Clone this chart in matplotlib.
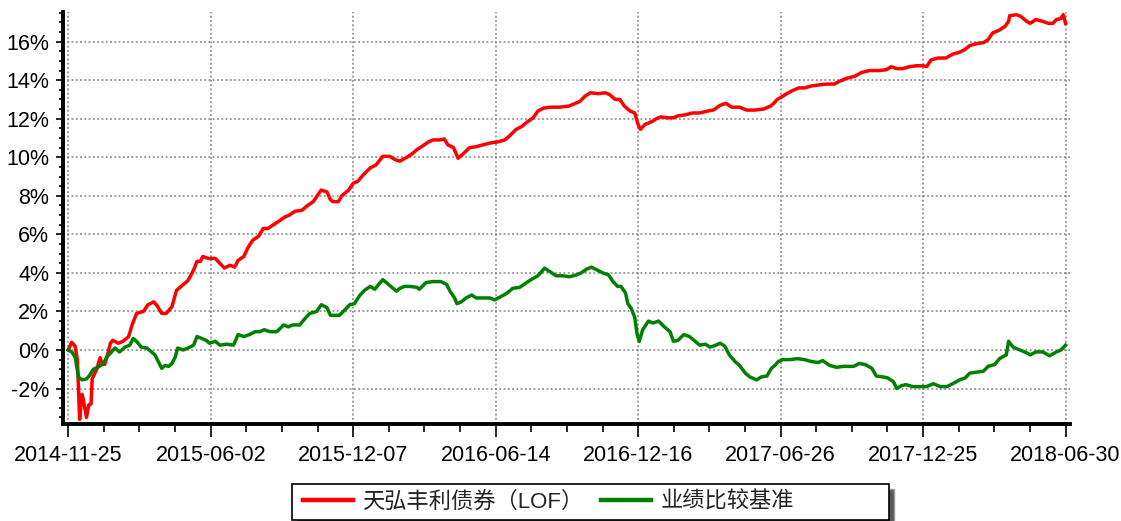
import numpy as np
import matplotlib
matplotlib.use("Agg")
import matplotlib.pyplot as plt
from matplotlib.ticker import MultipleLocator, FuncFormatter
from matplotlib.patches import Rectangle

# x axis in trading-day index, labels every 125 days
date_labels = ["2014-11-25", "2015-06-02", "2015-12-07", "2016-06-14",
               "2016-12-16", "2017-06-26", "2017-12-25", "2018-06-30"]
label_step = 125

fund_name = "天弘丰利债券（LOF）"
bench_name = "业绩比较基准"

fund_day = [0, 3, 6, 8, 10, 12, 13, 16, 18, 20, 21, 25, 28, 29, 32, 34, 37, 39, 44, 48,
            53, 56, 60, 66, 70, 75, 78, 82, 86, 91, 95, 101, 105, 110, 113, 116, 118, 123, 129, 133,
            137, 142, 146, 149, 154, 158, 162, 167, 171, 175, 180, 184, 190, 194, 199, 205, 209, 215, 219, 222,
            227, 230, 232, 237, 240, 246, 250, 254, 259, 265, 270, 276, 282, 287, 291, 297, 301, 306, 310, 316,
            320, 326, 330, 333, 338, 342, 346, 352, 358, 364, 371, 377, 383, 387, 393, 398, 403, 408, 412, 417,
            423, 431, 439, 443, 449, 453, 458, 465, 471, 475, 480, 484, 488, 493, 497, 500, 502, 506, 512, 516,
            520, 525, 531, 535, 541, 548, 554, 561, 566, 572, 577, 582, 589, 595, 602, 610, 616, 619, 622, 625,
            629, 635, 641, 646, 652, 658, 665, 672, 677, 683, 690, 696, 703, 712, 718, 722, 727, 732, 738, 744,
            750, 753, 757, 763, 770, 776, 782, 787, 791, 797, 803, 807, 811, 817, 822, 825, 826, 832, 836, 841,
            844, 849, 855, 860, 864, 867, 871, 873, 875]
fund_pct = [0.0, 0.4, 0.2, -0.5, -3.6, -2.3, -2.5, -3.5, -2.85, -2.8, -1.5, -1.0, -0.4, -0.6, -0.75, -0.35, 0.35, 0.5, 0.35, 0.45,
            0.7, 1.3, 1.9, 2.0, 2.35, 2.5, 2.3, 1.9, 1.9, 2.25, 3.1, 3.4, 3.6, 4.15, 4.6, 4.6, 4.85, 4.75, 4.75, 4.5,
            4.25, 4.4, 4.3, 4.65, 4.85, 5.35, 5.7, 5.9, 6.3, 6.3, 6.5, 6.65, 6.9, 7.0, 7.2, 7.25, 7.45, 7.7, 8.05, 8.3,
            8.2, 7.8, 7.7, 7.7, 8.0, 8.3, 8.65, 8.75, 9.1, 9.45, 9.6, 10.05, 10.05, 9.87, 9.8, 10.0, 10.15, 10.4, 10.55, 10.8,
            10.9, 10.9, 10.95, 10.65, 10.5, 9.95, 10.15, 10.5, 10.55, 10.65, 10.75, 10.8, 10.9, 11.1, 11.45, 11.6, 11.85, 12.05, 12.4, 12.55,
            12.6, 12.6, 12.65, 12.75, 12.9, 13.15, 13.35, 13.3, 13.35, 13.25, 13.0, 13.0, 12.65, 12.4, 12.3, 11.7, 11.45, 11.7, 11.85, 12.0,
            12.1, 12.05, 12.05, 12.15, 12.2, 12.3, 12.3, 12.4, 12.45, 12.7, 12.8, 12.6, 12.6, 12.45, 12.45, 12.5, 12.65, 12.8, 13.0, 13.1,
            13.25, 13.45, 13.6, 13.6, 13.7, 13.75, 13.8, 13.8, 13.95, 14.1, 14.2, 14.4, 14.5, 14.5, 14.55, 14.7, 14.6, 14.6, 14.7, 14.75,
            14.75, 14.7, 15.05, 15.15, 15.15, 15.35, 15.45, 15.6, 15.8, 15.9, 15.95, 16.1, 16.45, 16.6, 16.8, 17.05, 17.35, 17.4, 17.3, 17.05,
            16.95, 17.15, 17.05, 16.95, 16.95, 17.15, 17.2, 17.4, 16.95]

bench_day = [0, 3, 6, 9, 12, 16, 19, 22, 26, 31, 34, 38, 41, 45, 50, 54, 57, 60, 64, 69,
             73, 76, 79, 82, 85, 88, 91, 94, 96, 101, 105, 110, 113, 117, 121, 124, 129, 133, 139, 145,
             149, 154, 159, 164, 168, 172, 177, 183, 189, 193, 197, 203, 208, 212, 218, 222, 227, 230, 234, 238,
             243, 247, 251, 256, 260, 265, 269, 273, 276, 281, 285, 288, 291, 295, 300, 306, 308, 314, 320, 327,
             332, 335, 339, 341, 345, 349, 354, 358, 364, 370, 374, 379, 385, 390, 396, 401, 406, 412, 418, 423,
             428, 434, 440, 446, 450, 455, 459, 464, 469, 474, 478, 482, 485, 489, 491, 494, 497, 499, 501, 504,
             509, 513, 518, 523, 528, 531, 535, 540, 545, 550, 554, 559, 563, 566, 572, 576, 580, 585, 589, 594,
             598, 604, 608, 613, 617, 620, 623, 627, 633, 640, 646, 652, 658, 662, 668, 674, 680, 689, 694, 699,
             705, 709, 715, 719, 724, 727, 731, 735, 741, 747, 753, 759, 765, 771, 776, 782, 787, 791, 797, 803,
             807, 813, 817, 823, 825, 829, 835, 841, 844, 849, 855, 861, 867, 871, 875]
bench_pct = [0.0, -0.1, -0.35, -1.4, -1.55, -1.5, -1.3, -1.0, -0.9, -0.7, -0.35, -0.1, 0.1, -0.1, 0.15, 0.25, 0.6, 0.45, 0.15, 0.1,
             -0.1, -0.25, -0.6, -0.95, -0.8, -0.85, -0.7, -0.35, 0.1, 0.0, 0.1, 0.25, 0.7, 0.6, 0.5, 0.35, 0.45, 0.25, 0.3, 0.25,
             0.8, 0.7, 0.8, 0.95, 0.95, 1.05, 0.95, 0.95, 1.3, 1.2, 1.3, 1.3, 1.65, 1.9, 2.0, 2.35, 2.2, 1.8, 1.8, 1.8,
             2.1, 2.35, 2.4, 2.85, 3.1, 3.3, 3.15, 3.45, 3.65, 3.4, 3.2, 3.05, 3.2, 3.3, 3.3, 3.25, 3.15, 3.5, 3.55, 3.55,
             3.4, 3.05, 2.7, 2.4, 2.5, 2.7, 2.85, 2.7, 2.7, 2.7, 2.6, 2.75, 2.95, 3.2, 3.25, 3.45, 3.65, 3.85, 4.25, 4.05,
             3.85, 3.85, 3.8, 3.9, 4.0, 4.2, 4.3, 4.15, 4.0, 3.9, 3.55, 3.3, 3.3, 2.95, 2.4, 2.15, 1.7, 0.85, 0.45, 1.05,
             1.5, 1.4, 1.5, 1.2, 0.95, 0.45, 0.5, 0.8, 0.7, 0.45, 0.25, 0.3, 0.15, 0.2, 0.35, 0.2, -0.25, -0.6, -0.8, -1.2,
             -1.4, -1.55, -1.4, -1.35, -0.95, -0.8, -0.6, -0.5, -0.5, -0.45, -0.5, -0.6, -0.65, -0.55, -0.8, -0.9, -0.85, -0.85, -0.7, -0.75,
             -0.95, -1.35, -1.4, -1.45, -1.65, -2.0, -1.85, -1.8, -1.9, -1.9, -1.9, -1.75, -1.9, -1.9, -1.75, -1.55, -1.45, -1.2, -1.15, -1.1,
             -0.85, -0.75, -0.45, -0.25, 0.45, 0.15, 0.0, -0.15, -0.25, -0.1, -0.1, -0.3, -0.1, 0.0, 0.25]

plt.rcParams['font.family'] = ['Liberation Sans', 'Noto Sans CJK SC', 'DejaVu Sans']

W, H = 1121, 521
fig = plt.figure(figsize=(W / 100, H / 100), dpi=100)
ax = fig.add_axes([0.0562, 0.1862, 0.898, 0.7908])

ax.plot(fund_day, fund_pct, color='#ff0000', lw=2.5, solid_joinstyle='round', label=fund_name, zorder=3)
ax.plot(bench_day, bench_pct, color='#008000', lw=2.5, solid_joinstyle='round', label=bench_name, zorder=3)

ax.set_xlim(-4.6, 878.6)
ax.set_ylim(-3.84, 17.54)

ax.set_xticks([i * label_step for i in range(len(date_labels))])
ax.set_xticklabels(date_labels)
ax.xaxis.set_minor_locator(MultipleLocator(label_step / 4))
ax.yaxis.set_major_locator(MultipleLocator(2))
ax.yaxis.set_minor_locator(MultipleLocator(0.5))
ax.yaxis.set_major_formatter(FuncFormatter(lambda v, p: "%d%%" % round(v)))

ax.tick_params(axis='both', which='major', labelsize=15.5, colors='black', width=1.2)
ax.tick_params(axis='x', which='major', length=9, pad=6)
ax.tick_params(axis='x', which='minor', length=6, width=1.2)
ax.tick_params(axis='y', which='major', length=5, pad=5)
ax.tick_params(axis='y', which='minor', length=3, width=1.2)

for s in ['top', 'right']:
    ax.spines[s].set_visible(False)
for s in ['left', 'bottom']:
    ax.spines[s].set_linewidth(2.8)

ax.grid(True, which='major', color='#808080', linestyle=(0, (1.2, 1.6)), linewidth=1.1)

# legend box with a shadow on the right, drawn in figure pixels
bx0, bx1, by0, by1 = 292, 889, 484, 520
fig.patches.append(Rectangle(((bx0 + 5) / W, 1 - (by1 + 5) / H), (bx1 - bx0) / W, (by1 - by0) / H,
                             transform=fig.transFigure, facecolor='#5a5a5a', edgecolor='#9a9a9a',
                             lw=1.0, zorder=0))
fig.patches.append(Rectangle((bx0 / W, 1 - by1 / H), (bx1 - bx0) / W, (by1 - by0) / H,
                             transform=fig.transFigure, facecolor='white', edgecolor='black',
                             lw=1.2, zorder=1))

leg = fig.legend(loc='center left', bbox_to_anchor=((bx0 + 7) / W, 1 - (by0 + by1) / 2 / H), ncol=2,
                 frameon=False, fontsize=16, handlelength=2.25, columnspacing=0.8,
                 borderaxespad=0, borderpad=0.2, handletextpad=0.4)
leg.set_zorder(2)
for t in leg.get_texts():
    t.set_color('#222222')
for ln in leg.get_lines():
    ln.set_linewidth(3.2)

fig.savefig("out.png", dpi=100)
